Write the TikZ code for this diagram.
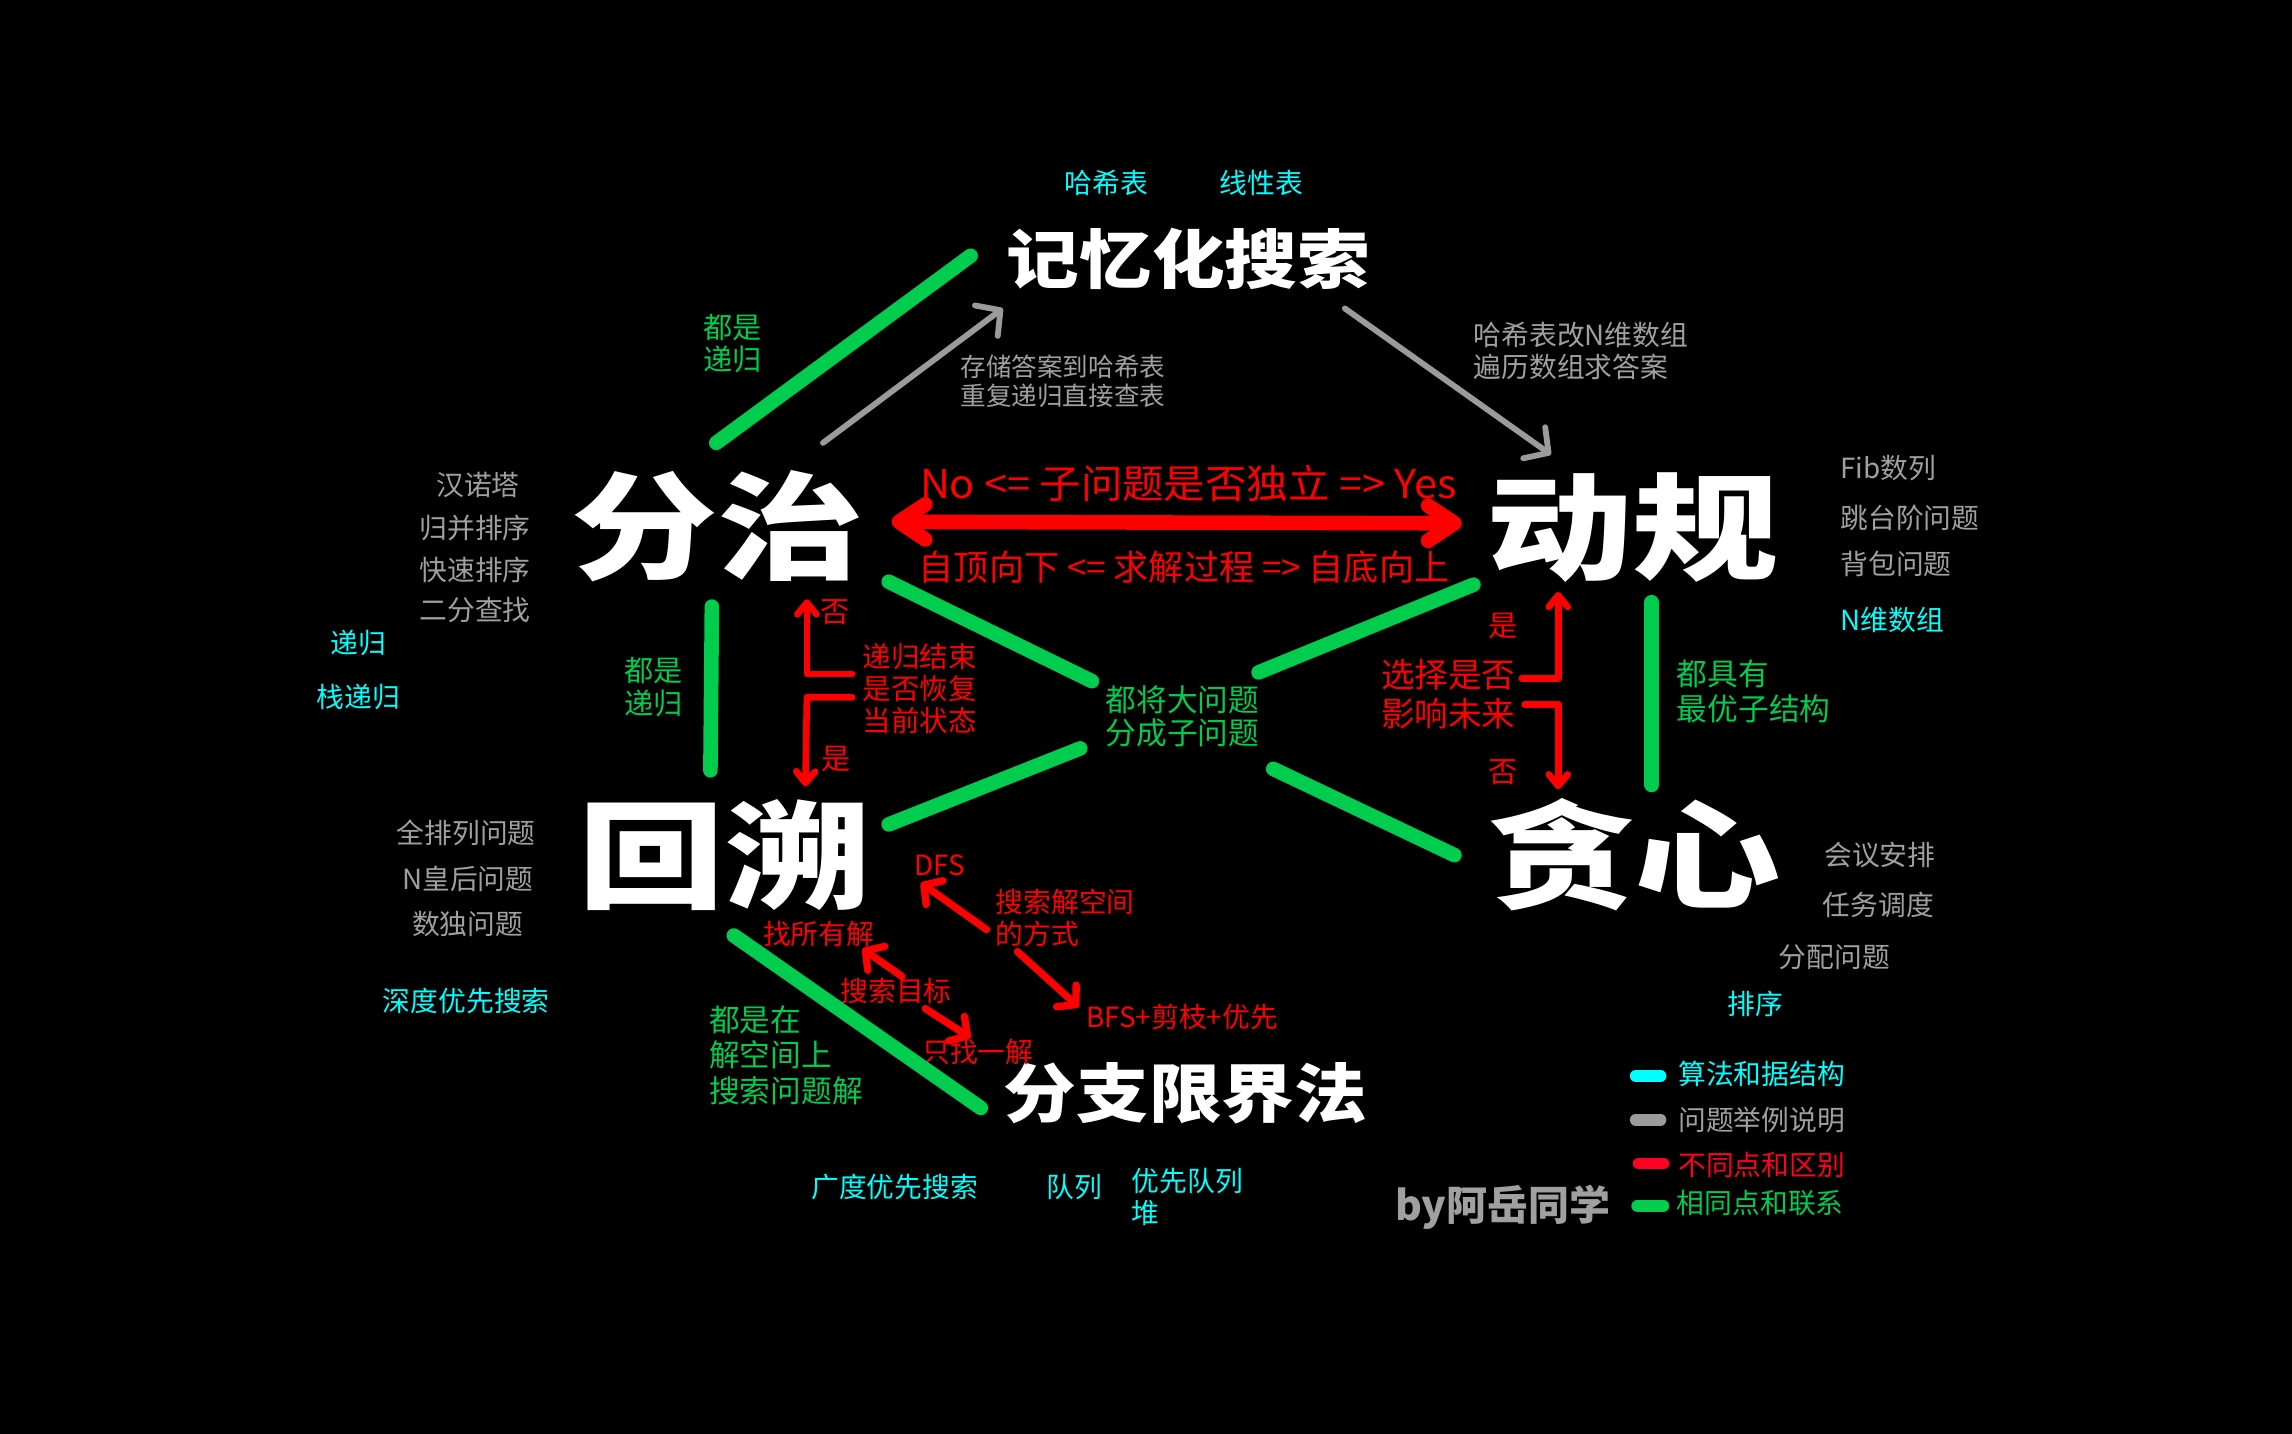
\documentclass[tikz,border=0pt]{standalone}
\usepackage{fontspec}
\setmainfont{Noto Sans CJK SC}
\usetikzlibrary{arrows.meta}
\definecolor{grn}{RGB}{0,204,78}
\definecolor{cyn}{RGB}{0,255,255}
\definecolor{gry}{RGB}{160,160,160}
\definecolor{arrgry}{RGB}{155,155,155}
\definecolor{rd}{RGB}{255,0,0}
\definecolor{rdtwo}{RGB}{255,0,34}
\newcommand{\bigwide}[1]{\scalebox{1.25}[1]{#1}}
\newcommand{\midwide}[1]{\scalebox{1.13}[1]{#1}}
\tikzset{
  txt/.style={inner sep=0pt, font=\fontsize{19}{22}\selectfont},
  cy/.style={txt, text=cyn},
  gy/.style={txt, text=gry},
  gn/.style={txt, text=grn},
  rdt/.style={txt, text=rd},
  bigtitle/.style={inner sep=0pt, text=white, font=\fontsize{80}{80}\selectfont\bfseries},
  midtitle/.style={inner sep=0pt, text=white, font=\fontsize{44}{44}\selectfont\bfseries},
  greenline/.style={draw=grn, line width=10pt, line cap=round},
  grayarrow/.style={draw=arrgry, line width=4pt, line cap=round, -{Straight Barb[length=12pt,width=26pt,round]}},
  redarrow/.style={draw=rd, line width=4.5pt, line cap=round, line join=round, -{Straight Barb[length=8pt,width=13pt,round]}},
  reddiag/.style={draw=rd, line width=5pt, line cap=round, line join=round, -{Straight Barb[length=9pt,width=20pt,round]}},
  bigred/.style={draw=rd, line width=10pt, line cap=round, {Straight Barb[length=18pt,width=24pt,round]}-{Straight Barb[length=18pt,width=24pt,round]}},
  pill/.style={line width=8pt, line cap=round},
}
\begin{document}
\begin{tikzpicture}[x=1pt, y=-1pt]
\fill[black] (0,0) rectangle (1568,981);
\useasboundingbox (0,0) rectangle (1568,981);

% titles
\node[midtitle] (jiyi) at (813,177) {\midwide{记忆化搜索}};
\node[bigtitle] (fenzhi) at (491,360) {\bigwide{分治}};
\node[bigtitle] (dongui) at (1117,361) {\bigwide{动规}};
\node[bigtitle] (huisu) at (496,585) {\bigwide{回溯}};
\node[bigtitle] (tanxin) at (1118,585) {\bigwide{贪心}};
\node[midtitle] (fenzhix) at (811,748) {\midwide{分支限界法}};

% cyan labels
\node[cy] (c1) at (757,125) {哈希表};
\node[cy] (c2) at (863,125) {线性表};
\node[cy] (c3) at (245,440) {递归};
\node[cy] (c4) at (245,477) {栈递归};
\node[cy, anchor=west] (c5) at (1259,424) {N维数组};
\node[cy] (c6) at (319,685) {深度优先搜索};
\node[cy] (c7) at (1201,687) {排序};
\node[cy] (c8) at (612,812) {广度优先搜索};
\node[cy] (c9) at (735,812) {队列};
\node[cy, anchor=west, align=left] (c10) at (774,819) {优先队列\\堆};

% gray labels
\node[gy, anchor=west, align=left, font=\fontsize{17.5}{20}\selectfont] (g1) at (657,261) {存储答案到哈希表\\重复递归直接查表};
\node[gy, anchor=west, align=left, font=\fontsize{19}{22}\selectfont] (g2) at (1008,240) {哈希表改N维数组\\遍历数组求答案};
\node[gy] (g3) at (327,332) {汉诺塔};
\node[gy] (g4) at (325,361) {归并排序};
\node[gy] (g5) at (325,390) {快速排序};
\node[gy] (g6) at (325,417) {二分查找};
\node[gy] (g7) at (319,570) {全排列问题};
\node[gy] (g8) at (320,601) {N皇后问题};
\node[gy] (g9) at (320,632) {数独问题};
\node[gy, anchor=west] (g10) at (1259,320) {Fib数列};
\node[gy, anchor=west] (g11) at (1259,354) {跳台阶问题};
\node[gy, anchor=west] (g12) at (1259,386) {背包问题};
\node[gy] (g13) at (1286,585) {会议安排};
\node[gy] (g14) at (1285,619) {任务调度};
\node[gy] (g15) at (1255,655) {分配问题};
\node[inner sep=0pt, text=gry, font=\fontsize{28}{28}\selectfont\bfseries] (sig) at (1028,826) {by阿岳同学};

% green labels
\node[gn, anchor=west, align=left, font=\fontsize{20}{22}\selectfont] (n1) at (481,235) {都是\\递归};
\node[gn, anchor=west, align=left, font=\fontsize{20}{23}\selectfont] (n2) at (427,470) {都是\\递归};
\node[gn, align=left, font=\fontsize{21}{23}\selectfont] (n3) at (809,490) {都将大问题\\分成子问题};
\node[gn, anchor=west, align=left, font=\fontsize{21}{24}\selectfont] (n4) at (1147,473) {都具有\\最优子结构};
\node[gn, anchor=west, align=left, font=\fontsize{21}{24}\selectfont] (n5) at (485,722) {都是在\\解空间上\\搜索问题解};

% red labels
\node[rdt, font=\fontsize{27}{27}\selectfont] (r1) at (813,331) {\scalebox{1.05}[1]{No <= 子问题是否独立 => Yes}};
\node[rdt, font=\fontsize{24}{24}\selectfont] (r2) at (810,388) {自顶向下 <= 求解过程 => 自底向上};
\node[rdt, font=\fontsize{20}{20}\selectfont] (r3) at (571,419) {否};
\node[rdt, font=\fontsize{20}{20}\selectfont] (r4) at (572,519) {是};
\node[rdt, anchor=west, align=left, font=\fontsize{19.5}{22}\selectfont] (r5) at (590,471) {递归结束\\是否恢复\\当前状态};
\node[rdt, font=\fontsize{20}{20}\selectfont] (r6) at (1028,428) {是};
\node[rdt, font=\fontsize{20}{20}\selectfont] (r7) at (1028,528) {否};
\node[rdt, anchor=east, align=left, font=\fontsize{23}{27}\selectfont] (r8) at (1037,475) {选择是否\\影响未来};
\node[rdt] (r9) at (643,592) {DFS};
\node[rdt, anchor=west, align=left] (r10) at (681,628) {搜索解空间\\的方式};
\node[rdt, anchor=west] (r11) at (743,696) {BFS+剪枝+优先};
\node[rdt] (r12) at (613,678) {搜索目标};
\node[rdt] (r13) at (560,639) {找所有解};
\node[rdt] (r14) at (669,720) {只找一解};

% legend
\node[cy, anchor=west] (l1) at (1148,735) {算法和据结构};
\node[gy, anchor=west] (l2) at (1148,766) {问题举例说明};
\node[txt, text=rdtwo, anchor=west] (l3) at (1148,797) {不同点和区别};
\node[gn, anchor=west] (l4) at (1147,823) {相同点和联系};
\coordinate (p1a) at (1119,736); \coordinate (p1b) at (1136,736);
\coordinate (p2a) at (1119,766); \coordinate (p2b) at (1136,766);
\coordinate (p3a) at (1121,796); \coordinate (p3b) at (1138,796);
\coordinate (p4a) at (1120,825); \coordinate (p4b) at (1138,825);
\draw[pill, cyn] (p1a) -- (p1b);
\draw[pill, arrgry] (p2a) -- (p2b);
\draw[pill, rdtwo] (p3a) -- (p3b);
\draw[pill, grn] (p4a) -- (p4b);

% green connector lines
\coordinate (g1a) at (490,303); \coordinate (g1b) at (664,175);
\coordinate (g2a) at (487,415); \coordinate (g2b) at (486,527);
\coordinate (g3a) at (1130,412); \coordinate (g3b) at (1130,537);
\coordinate (g4a) at (608,398); \coordinate (g4b) at (747,466);
\coordinate (g5a) at (861,460); \coordinate (g5b) at (1008,400);
\coordinate (g6a) at (608,564); \coordinate (g6b) at (739,512);
\coordinate (g7a) at (871,526); \coordinate (g7b) at (995,585);
\coordinate (g8a) at (502,640); \coordinate (g8b) at (671,758);
\foreach \p in {1,...,8} \draw[greenline] (g\p a) -- (g\p b);

% gray arrows
\coordinate (a1a) at (563,303); \coordinate (a1b) at (686,211);
\coordinate (a2a) at (920,211); \coordinate (a2b) at (1061,311);
\draw[grayarrow] (a1a) -- (a1b);
\draw[grayarrow] (a2a) -- (a2b);

% big red double arrow
\coordinate (bl) at (610,357); \coordinate (br) at (1000,358);
\draw[bigred] (bl) -- (br);

% red elbow arrows
\coordinate (e1a) at (583,461); \coordinate (e1b) at (552,461); \coordinate (e1c) at (552,410);
\coordinate (e2a) at (583,477); \coordinate (e2b) at (552,477); \coordinate (e2c) at (551,538);
\coordinate (e3a) at (1041,464); \coordinate (e3b) at (1066,464); \coordinate (e3c) at (1066,405);
\coordinate (e4a) at (1043,482); \coordinate (e4b) at (1066,482); \coordinate (e4c) at (1066,540);
\foreach \p in {1,...,4} \draw[redarrow] (e\p a) -- (e\p b) -- (e\p c);

% red diagonal arrows
\coordinate (d1a) at (675,636); \coordinate (d1b) at (630,604);
\coordinate (d2a) at (696,651); \coordinate (d2b) at (738,689);
\coordinate (d3a) at (617,668); \coordinate (d3b) at (590,649);
\coordinate (d4a) at (633,690); \coordinate (d4b) at (664,710);
\foreach \p in {1,...,4} \draw[reddiag] (d\p a) -- (d\p b);
\end{tikzpicture}
\end{document}
